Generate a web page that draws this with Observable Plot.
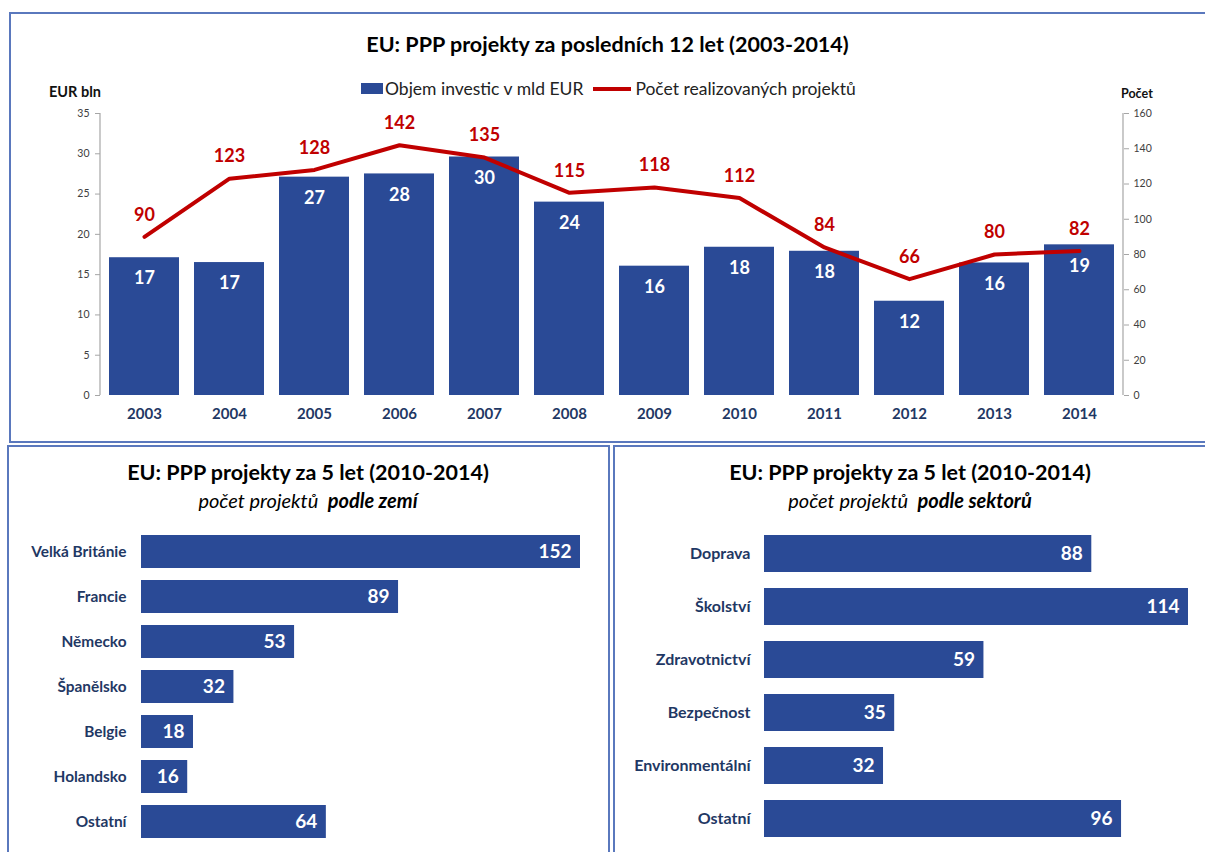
<!DOCTYPE html>
<html>
<head>
<meta charset="utf-8">
<script src="https://cdn.jsdelivr.net/npm/d3@7"></script>
<script src="https://cdn.jsdelivr.net/npm/@observablehq/plot@0.6"></script>
<style>
  html, body { margin: 0; padding: 0; background: #fff; }
  body { width: 1205px; height: 852px; position: relative; overflow: hidden; font-family: Lato, "Open Sans", sans-serif; color: #000; }
  .panel { position: absolute; border: 2px solid #5a78bd; box-sizing: border-box; }
  .title { position: absolute; text-align: center; font-weight: bold; font-size: 21.5px; white-space: nowrap; }
  .sub { position: absolute; text-align: center; font-style: italic; font-size: 20px; white-space: nowrap; }
  .legend { position: absolute; display: flex; align-items: center; font-size: 17.5px; color: #222; white-space: nowrap; }
  .axislab { position: absolute; font-weight: bold; font-size: 14.5px; color: #111; }
  svg { position: absolute; overflow: visible; }
</style>
</head>
<body>
<div class="panel" style="left:9px; top:12px; width:1200px; height:431px;"></div>
<div class="panel" style="left:7px; top:445px; width:603px; height:420px;"></div>
<div class="panel" style="left:613px; top:445px; width:600px; height:420px;"></div>

<div class="title" style="left:10px; width:1195px; top:31px;">EU: PPP projekty za posledních 12 let (2003-2014)</div>
<div class="legend" id="legend" style="left:361px; top:78px;"></div>
<div class="axislab" style="left:49px; top:83px;">EUR bln</div>
<div class="axislab" style="left:1121px; top:86px; font-size:12.5px;">Počet</div>

<div class="title" style="left:8px; width:600px; top:459px;">EU: PPP projekty za 5 let (2010-2014)</div>
<div class="sub" style="left:8px; width:600px; top:488px;">počet projektů&nbsp; <b>podle zemí</b></div>
<div class="title" style="left:614px; width:592px; top:459px;">EU: PPP projekty za 5 let (2010-2014)</div>
<div class="sub" style="left:614px; width:592px; top:488px;">počet projektů&nbsp; <b>podle sektorů</b></div>

<div id="topc"></div>
<div id="blc"></div>
<div id="brc"></div>

<script>
// ---- data ----
const years = ["2003","2004","2005","2006","2007","2008","2009","2010","2011","2012","2013","2014"];
const investment = [17.1, 16.5, 27.1, 27.5, 29.6, 24.0, 16.05, 18.4, 17.9, 11.7, 16.45, 18.7];
const projects = [90, 123, 128, 142, 135, 115, 118, 112, 84, 66, 80, 82];
const leftTicks = [0, 5, 10, 15, 20, 25, 30, 35];
const rightTicks = [0, 20, 40, 60, 80, 100, 120, 140, 160];

const countries = ["Velká Británie", "Francie", "Německo", "Španělsko", "Belgie", "Holandsko", "Ostatní"];
const countryCounts = [152, 89, 53, 32, 18, 16, 64];

const sectors = ["Doprava", "Školství", "Zdravotnictví", "Bezpečnost", "Environmentální", "Ostatní"];
const sectorCounts = [88, 114, 59, 35, 32, 96];

const seriesNames = ["Objem investic v mld EUR", "Počet realizovaných projektů"];

// ---- styles ----
const BLUE = "#2a4a96";
const RED = "#c00000";
const LABEL = "#1f3864";
const TICK = "#404040";
const AXISLINE = "#a6a6a6";

// legend
const legendEl = document.getElementById("legend");
legendEl.innerHTML =
  `<span style="display:inline-block;width:22px;height:11px;background:${BLUE};margin-right:2px"></span>${seriesNames[0]}` +
  `<span style="display:inline-block;width:38px;height:4px;background:${RED};margin-left:10px;margin-right:4px"></span>${seriesNames[1]}`;

function vline(side) {
  return (index, scales, values, dims) => {
    const x = side === "left" ? dims.marginLeft : dims.width - dims.marginRight;
    return d3.create("svg:line")
      .attr("x1", x).attr("x2", x)
      .attr("y1", dims.marginTop).attr("y2", dims.height - dims.marginBottom)
      .attr("stroke", AXISLINE).attr("stroke-width", 1.2).node();
  };
}

// ---- top chart ----
const k = 35 / 160;
const topData = years.map((y, i) => ({year: y, inv: investment[i], cnt: projects[i]}));

const topChart = Plot.plot({
  width: 1205, height: 330,
  marginLeft: 100, marginRight: 82, marginTop: 13, marginBottom: 35,
  style: {fontFamily: "Lato, sans-serif", background: "transparent", overflow: "visible"},
  x: {domain: years, paddingInner: 0.18, paddingOuter: 0.09, axis: null},
  y: {domain: [0, 35], axis: null},
  marks: [
    Plot.barY(topData, {x: "year", y: "inv", fill: BLUE}),
    Plot.text(topData, {x: "year", y: "inv", text: d => d3.format(".0f")(d.inv), fill: "white", fontWeight: "bold", fontSize: 18, dy: 21}),
    Plot.line(topData, {x: "year", y: d => d.cnt * k, stroke: RED, strokeWidth: 4, strokeLinejoin: "round"}),
    Plot.text(topData, {x: "year", y: d => d.cnt * k, text: d => String(d.cnt), fill: RED, fontWeight: "bold", fontSize: 18, dy: -22}),
    Plot.axisY(leftTicks, {anchor: "left", label: null, tickSize: 5, tickPadding: 6, fontSize: 10.5, color: TICK, stroke: AXISLINE}),
    Plot.axisY(rightTicks.map(v => v * k), {anchor: "right", label: null, tickFormat: v => String(Math.round(v / k)), tickSize: 5, tickPadding: 5, fontSize: 10.5, color: TICK, stroke: AXISLINE}),
    Plot.axisX({label: null, tickSize: 0, tickPadding: 13, fontSize: 15, fontWeight: "bold", color: LABEL}),
    vline("left"),
    vline("right")
  ]
});
topChart.style.left = "0px"; topChart.style.top = "100px";
document.getElementById("topc").appendChild(topChart);

// ---- bottom left ----
const cData = countries.map((c, i) => ({name: c, v: countryCounts[i]}));
const blChart = Plot.plot({
  width: 600, height: 340,
  marginLeft: 141, marginRight: 20, marginTop: 12, marginBottom: 10,
  style: {fontFamily: "Lato, sans-serif", background: "transparent", overflow: "visible"},
  x: {domain: [0, 152], axis: null},
  y: {domain: countries, paddingInner: 0.27, paddingOuter: 0.135, axis: null},
  marks: [
    Plot.barX(cData, {y: "name", x: "v", fill: BLUE}),
    Plot.text(cData, {y: "name", x: "v", text: d => String(d.v), textAnchor: "end", dx: -9, fill: "white", fontWeight: "bold", fontSize: 19}),
    Plot.axisY({label: null, tickSize: 0, tickPadding: 15, fontSize: 15.4, fontWeight: "bold", color: LABEL})
  ]
});
blChart.style.left = "0px"; blChart.style.top = "515px";
document.getElementById("blc").appendChild(blChart);

// ---- bottom right ----
const sData = sectors.map((s, i) => ({name: s, v: sectorCounts[i]}));
const brChart = Plot.plot({
  width: 590, height: 340,
  marginLeft: 149, marginRight: 17, marginTop: 11, marginBottom: 8,
  style: {fontFamily: "Lato, sans-serif", background: "transparent", overflow: "visible"},
  x: {domain: [0, 114], axis: null},
  y: {domain: sectors, paddingInner: 0.30, paddingOuter: 0.15, axis: null},
  marks: [
    Plot.barX(sData, {y: "name", x: "v", fill: BLUE}),
    Plot.text(sData, {y: "name", x: "v", text: d => String(d.v), textAnchor: "end", dx: -9, fill: "white", fontWeight: "bold", fontSize: 19}),
    Plot.axisY({label: null, tickSize: 0, tickPadding: 14, fontSize: 16, fontWeight: "bold", color: LABEL})
  ]
});
brChart.style.left = "615px"; brChart.style.top = "515px";
document.getElementById("brc").appendChild(brChart);
</script>
</body>
</html>
